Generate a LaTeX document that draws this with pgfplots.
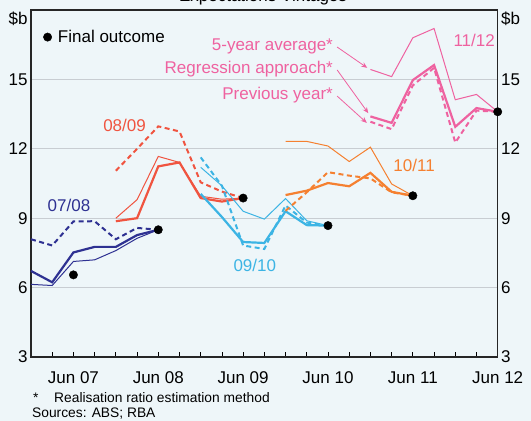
\documentclass[border=0pt]{standalone}
\usepackage{pgfplots}
\pgfplotsset{compat=1.18}
\usetikzlibrary{arrows.meta}
\usepackage{fontspec}
\setmainfont{Liberation Sans}

\definecolor{bgc}{RGB}{238,246,249}
\definecolor{gridc}{RGB}{200,205,210}
\definecolor{cA}{RGB}{46,49,146}   % 07/08
\definecolor{cB}{RGB}{240,84,64}   % 08/09
\definecolor{cC}{RGB}{60,180,228}  % 09/10
\definecolor{cD}{RGB}{245,128,48}  % 10/11
\definecolor{cE}{RGB}{238,98,160}  % 11/12
\newcommand\fs{\fontsize{17bp}{20bp}\selectfont}
\newcommand\fn{\fontsize{13.8bp}{16bp}\selectfont}

\pgfplotsset{
  thickln/.style={line width=2.2bp, forget plot},
  thinln/.style={line width=1bp, forget plot},
  dashln/.style={line width=2bp, dash pattern=on 5bp off 3.5bp, forget plot},
}

\begin{document}
\begin{tikzpicture}
\fill[bgc] (-31bp,-64bp) rectangle (500bp,357bp);
\node[anchor=base, inner sep=0, font=\fs] at (232bp,355bp) {Expectations Vintages};

\begin{axis}[
  at={(0,0)}, anchor=south west,
  scale only axis, width=466.7bp, height=347bp,
  xmin=0, xmax=22, ymin=3, ymax=18,
  axis line style={line width=1.1bp, black!85},
  xtick={0,...,22},
  xticklabels={,,Jun 07,,,,Jun 08,,,,Jun 09,,,,Jun 10,,,,Jun 11,,,,Jun 12},
  xtick pos=bottom, tick align=inside, major tick length=5bp,
  xtick style={line width=0.8bp, black},
  ytick={3,6,9,12,15}, ytick style={draw=none},
  ymajorgrids, grid style={gridc, line width=1.2bp},
  ticklabel style={font=\fs},
  /pgf/number format/assume math mode=true,
  xticklabel style={yshift=-11bp},
  clip=false,
  legend style={draw=none, fill=none, font=\fs, at={(rel axis cs:0,1)},
    anchor=north west, xshift=12bp, yshift=-18bp, inner sep=0pt, column sep=4bp},
  legend image code/.code={\fill (0bp,0bp) circle (4.2bp);},
]
% 07/08
\addplot[cA, thinln] coordinates {(0,6.14) (1,6.09) (2,7.13) (3,7.2) (4,7.6) (5,8.13) (6,8.5)};
\addplot[cA, dashln] coordinates {(0,8.09) (1,7.82) (2,8.86) (3,8.87) (4,8.09) (5,8.58) (6,8.5)};
\addplot[cA, thickln] coordinates {(0,6.72) (1,6.23) (2,7.52) (3,7.76) (4,7.76) (5,8.27) (6,8.5)};
% 08/09
\addplot[cB, thinln] coordinates {(4,9.0) (5,9.8) (6,11.67) (7,11.41) (8,9.95) (9,9.82) (10,9.87)};
\addplot[cB, dashln] coordinates {(4,11.05) (5,12.0) (6,12.97) (7,12.75) (8,10.55) (9,10.15) (10,9.87)};
\addplot[cB, thickln] coordinates {(4,8.87) (5,9.0) (6,11.24) (7,11.41) (8,9.87) (9,9.72) (10,9.87)};
% 09/10
\addplot[cC, thinln] coordinates {(8,11.2) (9,10.4) (10,9.3) (11,8.96) (12,9.85) (13,8.89) (14,8.68)};
\addplot[cC, dashln] coordinates {(8,11.63) (9,10.4) (10,7.82) (11,7.67) (12,9.55) (13,8.81) (14,8.68)};
\addplot[cC, thickln] coordinates {(8,10.05) (9,9.05) (10,7.97) (11,7.93) (12,9.3) (13,8.7) (14,8.68)};
% 10/11
\addplot[cD, thinln] coordinates {(12,12.32) (13,12.32) (14,12.12) (15,11.45) (16,12.07) (17,10.48) (18,9.97)};
\addplot[cD, dashln] coordinates {(12,9.32) (13,10.12) (14,10.99) (15,10.84) (16,10.72) (17,10.12) (18,9.97)};
\addplot[cD, thickln] coordinates {(12,10.0) (13,10.19) (14,10.52) (15,10.38) (16,10.96) (17,10.14) (18,9.97)};
% 11/12
\addplot[cE, thinln] coordinates {(16,15.43) (17,15.12) (18,16.8) (19,17.2) (20,14.12) (21,14.35) (22,13.6)};
\addplot[cE, dashln] coordinates {(16,13.17) (17,12.85) (18,14.74) (19,15.5) (20,12.27) (21,13.65) (22,13.6)};
\addplot[cE, thickln] coordinates {(16,13.4) (17,13.12) (18,14.97) (19,15.62) (20,12.95) (21,13.76) (22,13.6)};
% final outcomes
\addplot[only marks, mark=*, mark size=4.2bp, black] coordinates {(2,6.55) (6,8.5) (10,9.87) (14,8.68) (18,9.97) (22,13.6)};
\addlegendentry{Final outcome}

\node[cA, font=\fs] at (axis cs:1.79,9.57) {07/08};
\node[cB, font=\fs] at (axis cs:4.41,13.0) {08/09};
\node[cC, font=\fs] at (axis cs:10.55,6.96) {09/10};
\node[cD, font=\fs] at (axis cs:18.06,11.3) {10/11};
\node[cE, font=\fs] at (axis cs:20.89,16.7) {11/12};

\node[cE, font=\fs, anchor=base east, inner sep=0] at (axis cs:14.24,16.23) {5-year average*};
\node[cE, font=\fs, anchor=base east, inner sep=0] at (axis cs:14.24,15.26) {Regression approach*};
\node[cE, font=\fs, anchor=base east, inner sep=0] at (axis cs:14.24,14.13) {Previous year*};
\draw[cE, line width=0.8bp, -{Stealth[length=6bp,width=5bp]}] (axis cs:14.43,16.40) -- (axis cs:15.85,15.5);
\draw[cE, line width=0.8bp, -{Stealth[length=6bp,width=5bp]}] (axis cs:14.43,15.41) -- (axis cs:15.9,13.54);
\draw[cE, line width=0.8bp, -{Stealth[length=6bp,width=5bp]}] (axis cs:14.43,14.28) -- (axis cs:15.83,13.12);

\node[font=\fs, anchor=east] at (axis cs:0,17.6) {\$b};
\node[font=\fs, anchor=west] at (axis cs:22,17.6) {\$b};
\end{axis}

\begin{axis}[
  at={(0,0)}, anchor=south west,
  scale only axis, width=466.7bp, height=347bp,
  xmin=0, xmax=22, ymin=3, ymax=18,
  hide x axis, axis y line*=right, y axis line style={draw=none},
  ytick={3,6,9,12,15}, ytick style={draw=none},
  ticklabel style={font=\fs},
  /pgf/number format/assume math mode=true,
]
\addplot[draw=none, forget plot] coordinates {(0,3)};
\end{axis}

\node[font=\fn, anchor=base west, inner sep=0] at (2bp,-45.7bp) {*};
\node[font=\fn, anchor=base west, inner sep=0] at (23bp,-45.7bp) {Realisation ratio estimation method};
\node[font=\fn, anchor=base west, inner sep=0] at (1bp,-60.5bp) {Sources: ABS; RBA};

\pgfresetboundingbox
\useasboundingbox (-31bp,-64bp) rectangle (500bp,357bp);
\end{tikzpicture}
\end{document}
